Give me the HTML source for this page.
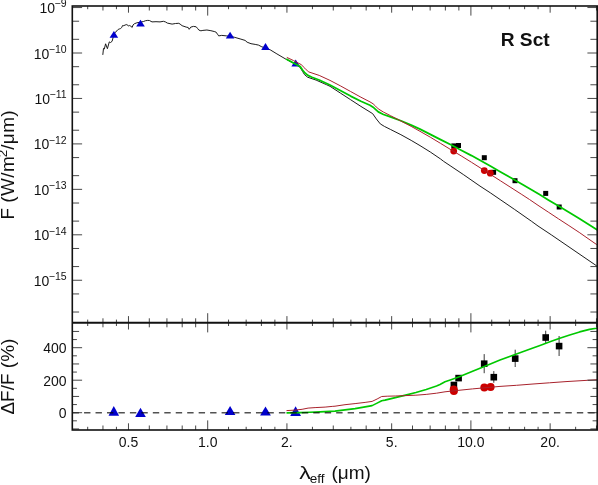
<!DOCTYPE html>
<html><head><meta charset="utf-8"><title>R Sct</title>
<style>html,body{margin:0;padding:0;background:#fff}svg{display:block}</style></head>
<body>
<svg width="598" height="485" viewBox="0 0 598 485">
<rect width="598" height="485" fill="#fff"/>
<defs><clipPath id="ct"><rect x="72.3" y="6.0" width="524.9" height="316.8"/></clipPath><clipPath id="cb"><rect x="72.3" y="322.8" width="524.9" height="107.2"/></clipPath></defs>
<polyline clip-path="url(#ct)" fill="none" stroke="#111" stroke-width="0.95" stroke-linejoin="round" points="102.8,54.9 103.5,48.4 104.3,49.0 105.6,43.8 107.4,48.7 109.3,41.9 110.5,42.5 112.1,41.3 113.0,37.9 114.0,34.5 115.2,32.3 117.0,30.8 118.2,29.4 119.5,28.9 120.6,28.5 121.7,27.5 122.6,25.5 123.8,25.7 125.1,25.0 126.8,24.6 128.0,25.5 128.8,26.0 129.7,25.5 130.9,26.3 132.2,27.4 133.0,25.0 134.3,23.8 136.8,22.8 140.5,22.2 143.5,21.5 145.6,20.7 147.7,20.4 149.4,20.5 152.0,21.9 156.0,21.7 160.0,21.9 163.4,21.3 165.4,21.9 167.4,23.1 172.1,24.1 175.5,23.5 178.8,23.3 180.1,24.1 182.1,25.7 186.2,27.1 188.2,27.5 189.2,29.3 190.8,27.1 193.5,26.4 196.2,26.8 197.5,28.4 198.9,30.1 200.9,30.8 202.9,30.4 206.9,30.0 210.9,30.7 214.2,31.5 215.9,32.0 217.5,34.2 218.7,35.9 221.7,35.4 226.7,35.9 230.0,36.4 234.2,37.2 240.1,38.9 245.1,40.4 247.1,42.2 251.0,43.7 255.2,44.4 258.5,45.1 261.8,46.8 265.5,48.0 270.2,49.8 276.9,53.9 286.1,59.3 293.6,63.3 299.8,67.0 302.5,71.3 304.5,74.6 307.6,77.2 316.1,80.1 326.5,84.7 330.0,86.3 340.3,93.0 350.6,99.7 360.9,106.4 370.0,112.0 372.7,113.7 376.3,118.9 380.3,123.9 384.4,126.4 390.6,129.5 400.9,134.7 411.2,140.4 420.0,145.6 430.3,152.0 440.6,159.0 443.7,161.4 450.9,166.2 463.3,174.5 480.0,186.1 490.3,192.8 500.1,199.5 514.7,209.5 531.4,221.2 538.0,226.0 551.4,234.9 596.4,265.7 598.0,266.8"/>
<polygon fill="#0000cc" points="113.9,31.1 109.6,37.7 118.2,37.7"/>
<polygon fill="#0000cc" points="140.5,19.7 136.2,26.5 144.8,26.5"/>
<polygon fill="#0000cc" points="230.1,31.7 225.8,38.4 234.4,38.4"/>
<polygon fill="#0000cc" points="265.5,43.1 261.2,50.1 269.8,50.1"/>
<polygon fill="#0000cc" points="295.7,59.6 291.4,66.4 300.0,66.4"/>
<rect x="451.3" y="143.4" width="5.0" height="5.0" fill="#000"/>
<rect x="456.0" y="143.0" width="5.0" height="5.0" fill="#000"/>
<rect x="481.8" y="155.2" width="5.0" height="5.0" fill="#000"/>
<rect x="491.1" y="169.8" width="5.0" height="5.0" fill="#000"/>
<rect x="512.5" y="178.2" width="5.0" height="5.0" fill="#000"/>
<rect x="543.2" y="190.9" width="5.0" height="5.0" fill="#000"/>
<rect x="556.7" y="204.5" width="5.0" height="5.0" fill="#000"/>
<polyline clip-path="url(#ct)" fill="none" stroke="#00c800" stroke-width="1.75" stroke-linejoin="round" points="286.2,58.9 293.6,63.0 300.2,66.6 302.7,70.3 305.0,73.0 307.9,75.4 312.0,77.2 319.2,80.0 330.0,85.0 340.3,90.5 350.6,96.1 360.9,101.3 370.0,105.2 373.1,107.2 375.5,109.3 378.3,111.9 383.5,114.5 390.4,116.9 400.9,120.8 411.2,125.1 420.0,129.1 430.3,134.4 440.6,139.6 450.9,144.8 461.2,150.3 471.5,155.6 480.0,160.3 490.3,166.0 500.6,172.0 510.9,177.8 521.2,183.7 531.5,189.7 540.0,194.8 548.3,199.9 558.6,206.1 568.9,212.3 579.2,218.5 589.5,224.9 596.6,229.5 598.0,230.4"/>
<circle cx="453.7" cy="151.1" r="3.4" fill="#cc0000"/>
<circle cx="484.3" cy="170.6" r="3.4" fill="#cc0000"/>
<circle cx="490.3" cy="173.2" r="3.4" fill="#cc0000"/>
<polyline clip-path="url(#ct)" fill="none" stroke="#a8222c" stroke-width="1.0" stroke-linejoin="round" points="286.8,57.4 293.6,60.6 301.2,64.6 304.8,68.2 308.4,71.8 312.0,73.0 319.2,75.4 330.0,80.4 340.3,85.8 350.6,91.5 360.9,97.2 370.0,101.9 373.1,103.8 375.5,106.1 378.3,108.9 383.5,112.1 390.4,115.6 400.9,121.0 411.2,126.4 420.0,131.3 430.3,137.2 440.6,143.4 450.9,149.7 461.2,155.9 471.5,162.3 480.0,167.7 490.3,174.3 500.6,180.9 510.9,187.5 521.2,194.1 529.5,199.5 538.0,205.3 548.3,212.1 558.6,218.9 568.9,225.6 579.2,232.4 596.4,244.4 598.0,245.5"/>
<polygon fill="#0000cc" points="113.8,406.0 108.5,415.8 119.1,415.8"/>
<polygon fill="#0000cc" points="140.5,407.7 135.2,417.1 145.8,417.1"/>
<polygon fill="#0000cc" points="230.1,406.0 224.8,414.9 235.4,414.9"/>
<polygon fill="#0000cc" points="265.5,406.6 260.1,415.5 270.9,415.5"/>
<polygon fill="#0000cc" points="295.6,406.3 290.2,415.9 301.0,415.9"/>
<rect x="450.6" y="381.7" width="6.6" height="6.6" fill="#000"/>
<rect x="455.3" y="374.8" width="6.6" height="6.6" fill="#000"/>
<line x1="484.2" x2="484.2" y1="354.1" y2="373.2" stroke="#222" stroke-width="0.9"/>
<rect x="480.9" y="360.4" width="6.6" height="6.6" fill="#000"/>
<line x1="493.8" x2="493.8" y1="371.1" y2="382.8" stroke="#222" stroke-width="0.9"/>
<rect x="490.5" y="373.9" width="6.6" height="6.6" fill="#000"/>
<line x1="515.2" x2="515.2" y1="349.7" y2="367.0" stroke="#222" stroke-width="0.9"/>
<rect x="511.9" y="355.3" width="6.6" height="6.6" fill="#000"/>
<line x1="545.7" x2="545.7" y1="330.7" y2="343.1" stroke="#222" stroke-width="0.9"/>
<rect x="542.4" y="334.2" width="6.6" height="6.6" fill="#000"/>
<line x1="559.1" x2="559.1" y1="336.0" y2="356.0" stroke="#222" stroke-width="0.9"/>
<rect x="555.8" y="342.8" width="6.6" height="6.6" fill="#000"/>
<polyline clip-path="url(#cb)" fill="none" stroke="#00c800" stroke-width="1.6" stroke-linejoin="round" points="286.5,412.9 300.0,412.6 310.0,412.3 320.0,411.9 330.0,411.4 335.0,411.1 345.0,409.9 355.1,408.6 365.1,406.9 372.1,405.6 377.1,403.1 381.7,400.7 385.0,400.1 395.3,397.6 405.6,395.1 415.9,392.5 426.2,389.4 436.5,386.0 440.0,384.5 445.0,381.8 451.0,379.8 458.6,377.1 472.0,371.5 484.3,366.4 500.0,360.1 510.3,356.3 520.6,352.5 530.9,348.8 540.0,345.5 549.9,341.8 559.8,338.3 569.7,335.0 579.6,331.9 589.5,329.4 596.4,328.3 598.0,328.0"/>
<circle cx="453.7" cy="389.4" r="4.0" fill="#cc0000"/>
<circle cx="453.9" cy="391.0" r="4.0" fill="#cc0000"/>
<circle cx="484.3" cy="387.6" r="4.0" fill="#cc0000"/>
<circle cx="490.6" cy="387.1" r="4.0" fill="#cc0000"/>
<polyline clip-path="url(#cb)" fill="none" stroke="#a8222c" stroke-width="1.0" stroke-linejoin="round" points="286.5,410.6 295.0,410.1 302.1,409.3 308.1,408.1 315.1,407.6 325.1,407.1 332.2,406.4 335.0,406.2 345.0,404.7 355.1,403.6 365.1,402.4 372.1,401.4 377.1,399.0 381.7,396.5 387.2,396.2 395.3,396.0 405.6,395.6 415.9,395.2 426.2,394.4 436.5,393.2 445.0,391.8 458.0,390.4 472.5,388.9 500.0,386.4 516.5,385.3 533.0,384.0 549.5,382.8 566.0,381.6 587.5,380.3 598.0,379.7"/>
<line x1="72.6" x2="597.2" y1="412.7" y2="412.7" stroke="#000" stroke-opacity="0.68" stroke-width="1.5" stroke-dasharray="6.4 5.06"/>
<line x1="87.70" y1="6.00" x2="87.70" y2="9.20" stroke="#333" stroke-width="0.9"/>
<line x1="87.70" y1="319.60" x2="87.70" y2="326.00" stroke="#333" stroke-width="0.9"/>
<line x1="87.70" y1="430.00" x2="87.70" y2="426.80" stroke="#333" stroke-width="0.9"/>
<line x1="102.96" y1="6.00" x2="102.96" y2="10.50" stroke="#333" stroke-width="0.9"/>
<line x1="102.96" y1="318.30" x2="102.96" y2="327.30" stroke="#333" stroke-width="0.9"/>
<line x1="102.96" y1="430.00" x2="102.96" y2="425.50" stroke="#333" stroke-width="0.9"/>
<line x1="116.43" y1="6.00" x2="116.43" y2="9.20" stroke="#333" stroke-width="0.9"/>
<line x1="116.43" y1="319.60" x2="116.43" y2="326.00" stroke="#333" stroke-width="0.9"/>
<line x1="116.43" y1="430.00" x2="116.43" y2="426.80" stroke="#333" stroke-width="0.9"/>
<line x1="128.47" y1="6.00" x2="128.47" y2="12.70" stroke="#333" stroke-width="0.9"/>
<line x1="128.47" y1="316.10" x2="128.47" y2="329.50" stroke="#333" stroke-width="0.9"/>
<line x1="128.47" y1="430.00" x2="128.47" y2="423.30" stroke="#333" stroke-width="0.9"/>
<line x1="149.31" y1="6.00" x2="149.31" y2="10.50" stroke="#333" stroke-width="0.9"/>
<line x1="149.31" y1="318.30" x2="149.31" y2="327.30" stroke="#333" stroke-width="0.9"/>
<line x1="149.31" y1="430.00" x2="149.31" y2="425.50" stroke="#333" stroke-width="0.9"/>
<line x1="166.93" y1="6.00" x2="166.93" y2="10.50" stroke="#333" stroke-width="0.9"/>
<line x1="166.93" y1="318.30" x2="166.93" y2="327.30" stroke="#333" stroke-width="0.9"/>
<line x1="166.93" y1="430.00" x2="166.93" y2="425.50" stroke="#333" stroke-width="0.9"/>
<line x1="182.19" y1="6.00" x2="182.19" y2="10.50" stroke="#333" stroke-width="0.9"/>
<line x1="182.19" y1="318.30" x2="182.19" y2="327.30" stroke="#333" stroke-width="0.9"/>
<line x1="182.19" y1="430.00" x2="182.19" y2="425.50" stroke="#333" stroke-width="0.9"/>
<line x1="195.66" y1="6.00" x2="195.66" y2="10.50" stroke="#333" stroke-width="0.9"/>
<line x1="195.66" y1="318.30" x2="195.66" y2="327.30" stroke="#333" stroke-width="0.9"/>
<line x1="195.66" y1="430.00" x2="195.66" y2="425.50" stroke="#333" stroke-width="0.9"/>
<line x1="207.70" y1="6.00" x2="207.70" y2="15.60" stroke="#333" stroke-width="0.9"/>
<line x1="207.70" y1="313.20" x2="207.70" y2="332.40" stroke="#333" stroke-width="0.9"/>
<line x1="207.70" y1="430.00" x2="207.70" y2="420.40" stroke="#333" stroke-width="0.9"/>
<line x1="228.54" y1="6.00" x2="228.54" y2="9.20" stroke="#333" stroke-width="0.9"/>
<line x1="228.54" y1="319.60" x2="228.54" y2="326.00" stroke="#333" stroke-width="0.9"/>
<line x1="228.54" y1="430.00" x2="228.54" y2="426.80" stroke="#333" stroke-width="0.9"/>
<line x1="246.16" y1="6.00" x2="246.16" y2="9.20" stroke="#333" stroke-width="0.9"/>
<line x1="246.16" y1="319.60" x2="246.16" y2="326.00" stroke="#333" stroke-width="0.9"/>
<line x1="246.16" y1="430.00" x2="246.16" y2="426.80" stroke="#333" stroke-width="0.9"/>
<line x1="261.42" y1="6.00" x2="261.42" y2="9.20" stroke="#333" stroke-width="0.9"/>
<line x1="261.42" y1="319.60" x2="261.42" y2="326.00" stroke="#333" stroke-width="0.9"/>
<line x1="261.42" y1="430.00" x2="261.42" y2="426.80" stroke="#333" stroke-width="0.9"/>
<line x1="274.89" y1="6.00" x2="274.89" y2="9.20" stroke="#333" stroke-width="0.9"/>
<line x1="274.89" y1="319.60" x2="274.89" y2="326.00" stroke="#333" stroke-width="0.9"/>
<line x1="274.89" y1="430.00" x2="274.89" y2="426.80" stroke="#333" stroke-width="0.9"/>
<line x1="286.93" y1="6.00" x2="286.93" y2="12.70" stroke="#333" stroke-width="0.9"/>
<line x1="286.93" y1="316.10" x2="286.93" y2="329.50" stroke="#333" stroke-width="0.9"/>
<line x1="286.93" y1="430.00" x2="286.93" y2="423.30" stroke="#333" stroke-width="0.9"/>
<line x1="312.44" y1="6.00" x2="312.44" y2="9.20" stroke="#333" stroke-width="0.9"/>
<line x1="312.44" y1="319.60" x2="312.44" y2="326.00" stroke="#333" stroke-width="0.9"/>
<line x1="312.44" y1="430.00" x2="312.44" y2="426.80" stroke="#333" stroke-width="0.9"/>
<line x1="333.28" y1="6.00" x2="333.28" y2="10.50" stroke="#333" stroke-width="0.9"/>
<line x1="333.28" y1="318.30" x2="333.28" y2="327.30" stroke="#333" stroke-width="0.9"/>
<line x1="333.28" y1="430.00" x2="333.28" y2="425.50" stroke="#333" stroke-width="0.9"/>
<line x1="350.90" y1="6.00" x2="350.90" y2="9.20" stroke="#333" stroke-width="0.9"/>
<line x1="350.90" y1="319.60" x2="350.90" y2="326.00" stroke="#333" stroke-width="0.9"/>
<line x1="350.90" y1="430.00" x2="350.90" y2="426.80" stroke="#333" stroke-width="0.9"/>
<line x1="366.16" y1="6.00" x2="366.16" y2="10.50" stroke="#333" stroke-width="0.9"/>
<line x1="366.16" y1="318.30" x2="366.16" y2="327.30" stroke="#333" stroke-width="0.9"/>
<line x1="366.16" y1="430.00" x2="366.16" y2="425.50" stroke="#333" stroke-width="0.9"/>
<line x1="379.63" y1="6.00" x2="379.63" y2="9.20" stroke="#333" stroke-width="0.9"/>
<line x1="379.63" y1="319.60" x2="379.63" y2="326.00" stroke="#333" stroke-width="0.9"/>
<line x1="379.63" y1="430.00" x2="379.63" y2="426.80" stroke="#333" stroke-width="0.9"/>
<line x1="391.67" y1="6.00" x2="391.67" y2="12.70" stroke="#333" stroke-width="0.9"/>
<line x1="391.67" y1="316.10" x2="391.67" y2="329.50" stroke="#333" stroke-width="0.9"/>
<line x1="391.67" y1="430.00" x2="391.67" y2="423.30" stroke="#333" stroke-width="0.9"/>
<line x1="412.51" y1="6.00" x2="412.51" y2="10.50" stroke="#333" stroke-width="0.9"/>
<line x1="412.51" y1="318.30" x2="412.51" y2="327.30" stroke="#333" stroke-width="0.9"/>
<line x1="412.51" y1="430.00" x2="412.51" y2="425.50" stroke="#333" stroke-width="0.9"/>
<line x1="430.13" y1="6.00" x2="430.13" y2="10.50" stroke="#333" stroke-width="0.9"/>
<line x1="430.13" y1="318.30" x2="430.13" y2="327.30" stroke="#333" stroke-width="0.9"/>
<line x1="430.13" y1="430.00" x2="430.13" y2="425.50" stroke="#333" stroke-width="0.9"/>
<line x1="445.39" y1="6.00" x2="445.39" y2="10.50" stroke="#333" stroke-width="0.9"/>
<line x1="445.39" y1="318.30" x2="445.39" y2="327.30" stroke="#333" stroke-width="0.9"/>
<line x1="445.39" y1="430.00" x2="445.39" y2="425.50" stroke="#333" stroke-width="0.9"/>
<line x1="458.86" y1="6.00" x2="458.86" y2="10.50" stroke="#333" stroke-width="0.9"/>
<line x1="458.86" y1="318.30" x2="458.86" y2="327.30" stroke="#333" stroke-width="0.9"/>
<line x1="458.86" y1="430.00" x2="458.86" y2="425.50" stroke="#333" stroke-width="0.9"/>
<line x1="470.90" y1="6.00" x2="470.90" y2="15.60" stroke="#333" stroke-width="0.9"/>
<line x1="470.90" y1="313.20" x2="470.90" y2="332.40" stroke="#333" stroke-width="0.9"/>
<line x1="470.90" y1="430.00" x2="470.90" y2="420.40" stroke="#333" stroke-width="0.9"/>
<line x1="491.74" y1="6.00" x2="491.74" y2="9.20" stroke="#333" stroke-width="0.9"/>
<line x1="491.74" y1="319.60" x2="491.74" y2="326.00" stroke="#333" stroke-width="0.9"/>
<line x1="491.74" y1="430.00" x2="491.74" y2="426.80" stroke="#333" stroke-width="0.9"/>
<line x1="509.36" y1="6.00" x2="509.36" y2="9.20" stroke="#333" stroke-width="0.9"/>
<line x1="509.36" y1="319.60" x2="509.36" y2="326.00" stroke="#333" stroke-width="0.9"/>
<line x1="509.36" y1="430.00" x2="509.36" y2="426.80" stroke="#333" stroke-width="0.9"/>
<line x1="524.62" y1="6.00" x2="524.62" y2="9.20" stroke="#333" stroke-width="0.9"/>
<line x1="524.62" y1="319.60" x2="524.62" y2="326.00" stroke="#333" stroke-width="0.9"/>
<line x1="524.62" y1="430.00" x2="524.62" y2="426.80" stroke="#333" stroke-width="0.9"/>
<line x1="538.09" y1="6.00" x2="538.09" y2="9.20" stroke="#333" stroke-width="0.9"/>
<line x1="538.09" y1="319.60" x2="538.09" y2="326.00" stroke="#333" stroke-width="0.9"/>
<line x1="538.09" y1="430.00" x2="538.09" y2="426.80" stroke="#333" stroke-width="0.9"/>
<line x1="550.13" y1="6.00" x2="550.13" y2="12.70" stroke="#333" stroke-width="0.9"/>
<line x1="550.13" y1="316.10" x2="550.13" y2="329.50" stroke="#333" stroke-width="0.9"/>
<line x1="550.13" y1="430.00" x2="550.13" y2="423.30" stroke="#333" stroke-width="0.9"/>
<line x1="575.64" y1="6.00" x2="575.64" y2="9.20" stroke="#333" stroke-width="0.9"/>
<line x1="575.64" y1="319.60" x2="575.64" y2="326.00" stroke="#333" stroke-width="0.9"/>
<line x1="575.64" y1="430.00" x2="575.64" y2="426.80" stroke="#333" stroke-width="0.9"/>
<line x1="596.48" y1="6.00" x2="596.48" y2="10.50" stroke="#333" stroke-width="0.9"/>
<line x1="596.48" y1="318.30" x2="596.48" y2="327.30" stroke="#333" stroke-width="0.9"/>
<line x1="596.48" y1="430.00" x2="596.48" y2="425.50" stroke="#333" stroke-width="0.9"/>
<line x1="72.30" y1="312.02" x2="79.10" y2="312.02" stroke="#333" stroke-width="0.9"/>
<line x1="597.20" y1="312.02" x2="590.40" y2="312.02" stroke="#333" stroke-width="0.9"/>
<line x1="72.30" y1="293.93" x2="79.10" y2="293.93" stroke="#333" stroke-width="0.9"/>
<line x1="597.20" y1="293.93" x2="590.40" y2="293.93" stroke="#333" stroke-width="0.9"/>
<line x1="72.30" y1="280.25" x2="82.10" y2="280.25" stroke="#333" stroke-width="0.9"/>
<line x1="597.20" y1="280.25" x2="587.40" y2="280.25" stroke="#333" stroke-width="0.9"/>
<line x1="72.30" y1="266.57" x2="79.10" y2="266.57" stroke="#333" stroke-width="0.9"/>
<line x1="597.20" y1="266.57" x2="590.40" y2="266.57" stroke="#333" stroke-width="0.9"/>
<line x1="72.30" y1="248.48" x2="79.10" y2="248.48" stroke="#333" stroke-width="0.9"/>
<line x1="597.20" y1="248.48" x2="590.40" y2="248.48" stroke="#333" stroke-width="0.9"/>
<line x1="72.30" y1="234.80" x2="82.10" y2="234.80" stroke="#333" stroke-width="0.9"/>
<line x1="597.20" y1="234.80" x2="587.40" y2="234.80" stroke="#333" stroke-width="0.9"/>
<line x1="72.30" y1="221.12" x2="79.10" y2="221.12" stroke="#333" stroke-width="0.9"/>
<line x1="597.20" y1="221.12" x2="590.40" y2="221.12" stroke="#333" stroke-width="0.9"/>
<line x1="72.30" y1="203.03" x2="79.10" y2="203.03" stroke="#333" stroke-width="0.9"/>
<line x1="597.20" y1="203.03" x2="590.40" y2="203.03" stroke="#333" stroke-width="0.9"/>
<line x1="72.30" y1="189.35" x2="82.10" y2="189.35" stroke="#333" stroke-width="0.9"/>
<line x1="597.20" y1="189.35" x2="587.40" y2="189.35" stroke="#333" stroke-width="0.9"/>
<line x1="72.30" y1="175.67" x2="79.10" y2="175.67" stroke="#333" stroke-width="0.9"/>
<line x1="597.20" y1="175.67" x2="590.40" y2="175.67" stroke="#333" stroke-width="0.9"/>
<line x1="72.30" y1="157.58" x2="79.10" y2="157.58" stroke="#333" stroke-width="0.9"/>
<line x1="597.20" y1="157.58" x2="590.40" y2="157.58" stroke="#333" stroke-width="0.9"/>
<line x1="72.30" y1="143.90" x2="82.10" y2="143.90" stroke="#333" stroke-width="0.9"/>
<line x1="597.20" y1="143.90" x2="587.40" y2="143.90" stroke="#333" stroke-width="0.9"/>
<line x1="72.30" y1="130.22" x2="79.10" y2="130.22" stroke="#333" stroke-width="0.9"/>
<line x1="597.20" y1="130.22" x2="590.40" y2="130.22" stroke="#333" stroke-width="0.9"/>
<line x1="72.30" y1="112.13" x2="79.10" y2="112.13" stroke="#333" stroke-width="0.9"/>
<line x1="597.20" y1="112.13" x2="590.40" y2="112.13" stroke="#333" stroke-width="0.9"/>
<line x1="72.30" y1="98.45" x2="82.10" y2="98.45" stroke="#333" stroke-width="0.9"/>
<line x1="597.20" y1="98.45" x2="587.40" y2="98.45" stroke="#333" stroke-width="0.9"/>
<line x1="72.30" y1="84.77" x2="79.10" y2="84.77" stroke="#333" stroke-width="0.9"/>
<line x1="597.20" y1="84.77" x2="590.40" y2="84.77" stroke="#333" stroke-width="0.9"/>
<line x1="72.30" y1="66.68" x2="79.10" y2="66.68" stroke="#333" stroke-width="0.9"/>
<line x1="597.20" y1="66.68" x2="590.40" y2="66.68" stroke="#333" stroke-width="0.9"/>
<line x1="72.30" y1="53.00" x2="82.10" y2="53.00" stroke="#333" stroke-width="0.9"/>
<line x1="597.20" y1="53.00" x2="587.40" y2="53.00" stroke="#333" stroke-width="0.9"/>
<line x1="72.30" y1="39.32" x2="79.10" y2="39.32" stroke="#333" stroke-width="0.9"/>
<line x1="597.20" y1="39.32" x2="590.40" y2="39.32" stroke="#333" stroke-width="0.9"/>
<line x1="72.30" y1="21.23" x2="79.10" y2="21.23" stroke="#333" stroke-width="0.9"/>
<line x1="597.20" y1="21.23" x2="590.40" y2="21.23" stroke="#333" stroke-width="0.9"/>
<line x1="72.30" y1="7.55" x2="82.10" y2="7.55" stroke="#333" stroke-width="0.9"/>
<line x1="597.20" y1="7.55" x2="587.40" y2="7.55" stroke="#333" stroke-width="0.9"/>
<line x1="72.30" y1="428.95" x2="79.10" y2="428.95" stroke="#333" stroke-width="0.9"/>
<line x1="597.20" y1="428.95" x2="590.40" y2="428.95" stroke="#333" stroke-width="0.9"/>
<line x1="72.30" y1="420.82" x2="76.90" y2="420.82" stroke="#333" stroke-width="0.9"/>
<line x1="597.20" y1="420.82" x2="592.60" y2="420.82" stroke="#333" stroke-width="0.9"/>
<line x1="72.30" y1="412.70" x2="82.10" y2="412.70" stroke="#333" stroke-width="0.9"/>
<line x1="597.20" y1="412.70" x2="587.40" y2="412.70" stroke="#333" stroke-width="0.9"/>
<line x1="72.30" y1="404.57" x2="76.90" y2="404.57" stroke="#333" stroke-width="0.9"/>
<line x1="597.20" y1="404.57" x2="592.60" y2="404.57" stroke="#333" stroke-width="0.9"/>
<line x1="72.30" y1="396.45" x2="79.10" y2="396.45" stroke="#333" stroke-width="0.9"/>
<line x1="597.20" y1="396.45" x2="590.40" y2="396.45" stroke="#333" stroke-width="0.9"/>
<line x1="72.30" y1="388.32" x2="76.90" y2="388.32" stroke="#333" stroke-width="0.9"/>
<line x1="597.20" y1="388.32" x2="592.60" y2="388.32" stroke="#333" stroke-width="0.9"/>
<line x1="72.30" y1="380.20" x2="82.10" y2="380.20" stroke="#333" stroke-width="0.9"/>
<line x1="597.20" y1="380.20" x2="587.40" y2="380.20" stroke="#333" stroke-width="0.9"/>
<line x1="72.30" y1="372.07" x2="76.90" y2="372.07" stroke="#333" stroke-width="0.9"/>
<line x1="597.20" y1="372.07" x2="592.60" y2="372.07" stroke="#333" stroke-width="0.9"/>
<line x1="72.30" y1="363.95" x2="79.10" y2="363.95" stroke="#333" stroke-width="0.9"/>
<line x1="597.20" y1="363.95" x2="590.40" y2="363.95" stroke="#333" stroke-width="0.9"/>
<line x1="72.30" y1="355.82" x2="76.90" y2="355.82" stroke="#333" stroke-width="0.9"/>
<line x1="597.20" y1="355.82" x2="592.60" y2="355.82" stroke="#333" stroke-width="0.9"/>
<line x1="72.30" y1="347.70" x2="82.10" y2="347.70" stroke="#333" stroke-width="0.9"/>
<line x1="597.20" y1="347.70" x2="587.40" y2="347.70" stroke="#333" stroke-width="0.9"/>
<line x1="72.30" y1="339.57" x2="76.90" y2="339.57" stroke="#333" stroke-width="0.9"/>
<line x1="597.20" y1="339.57" x2="592.60" y2="339.57" stroke="#333" stroke-width="0.9"/>
<line x1="72.30" y1="331.45" x2="79.10" y2="331.45" stroke="#333" stroke-width="0.9"/>
<line x1="597.20" y1="331.45" x2="590.40" y2="331.45" stroke="#333" stroke-width="0.9"/>
<rect x="72.30" y="6.00" width="524.90" height="424.00" fill="none" stroke="#111" stroke-width="1.6"/>
<line x1="72.30" x2="597.20" y1="322.80" y2="322.80" stroke="#111" stroke-width="2.0"/>
<g font-family="'Liberation Sans', sans-serif" fill="#111" opacity="0.999">
<text x="66.6" y="285.8" font-size="14" text-anchor="end">10<tspan font-size="10.5" dx="-0.5" dy="-5.6">−15</tspan></text>
<text x="66.6" y="240.3" font-size="14" text-anchor="end">10<tspan font-size="10.5" dx="-0.5" dy="-5.6">−14</tspan></text>
<text x="66.6" y="194.9" font-size="14" text-anchor="end">10<tspan font-size="10.5" dx="-0.5" dy="-5.6">−13</tspan></text>
<text x="66.6" y="149.4" font-size="14" text-anchor="end">10<tspan font-size="10.5" dx="-0.5" dy="-5.6">−12</tspan></text>
<text x="66.6" y="104.0" font-size="14" text-anchor="end">10<tspan font-size="10.5" dx="-0.5" dy="-5.6">−11</tspan></text>
<text x="66.6" y="58.5" font-size="14" text-anchor="end">10<tspan font-size="10.5" dx="-0.5" dy="-5.6">−10</tspan></text>
<text x="66.6" y="13.0" font-size="14" text-anchor="end">10<tspan font-size="10.5" dx="-0.5" dy="-5.6">−9</tspan></text>
<text x="66.6" y="418.4" font-size="14" text-anchor="end">0</text>
<text x="66.6" y="385.9" font-size="14" text-anchor="end">200</text>
<text x="66.6" y="353.4" font-size="14" text-anchor="end">400</text>
<text x="128.5" y="446.6" font-size="14" text-anchor="middle">0.5</text>
<text x="207.7" y="446.6" font-size="14" text-anchor="middle">1.0</text>
<text x="286.9" y="446.6" font-size="14" text-anchor="middle">2.</text>
<text x="391.7" y="446.6" font-size="14" text-anchor="middle">5.</text>
<text x="470.9" y="446.6" font-size="14" text-anchor="middle">10.0</text>
<text x="550.1" y="446.6" font-size="14" text-anchor="middle">20.</text>
<text transform="translate(500.7,46.2) scale(1.065,1.01)" font-size="18" font-weight="bold">R Sct</text>
<text transform="translate(13.9,219.6) rotate(-90)" font-size="19">F <tspan letter-spacing="0.35">(W/</tspan>m<tspan font-size="13.5" dx="-1.0" dy="-6.5">2</tspan><tspan dy="6.5">/</tspan><tspan dx="0.3" letter-spacing="0.6">μ</tspan>m)</text>
<text transform="translate(13.9,414.6) rotate(-90)" font-size="19">ΔF/F (%)</text>
<text transform="translate(299.2,479.1) scale(1.22,1)" font-size="19">λ</text>
<text x="309.8" y="482.5" font-size="13.5">eff</text>
<text x="331.4" y="479.1" font-size="19">(μm)</text>
</g>
</svg>
</body></html>
